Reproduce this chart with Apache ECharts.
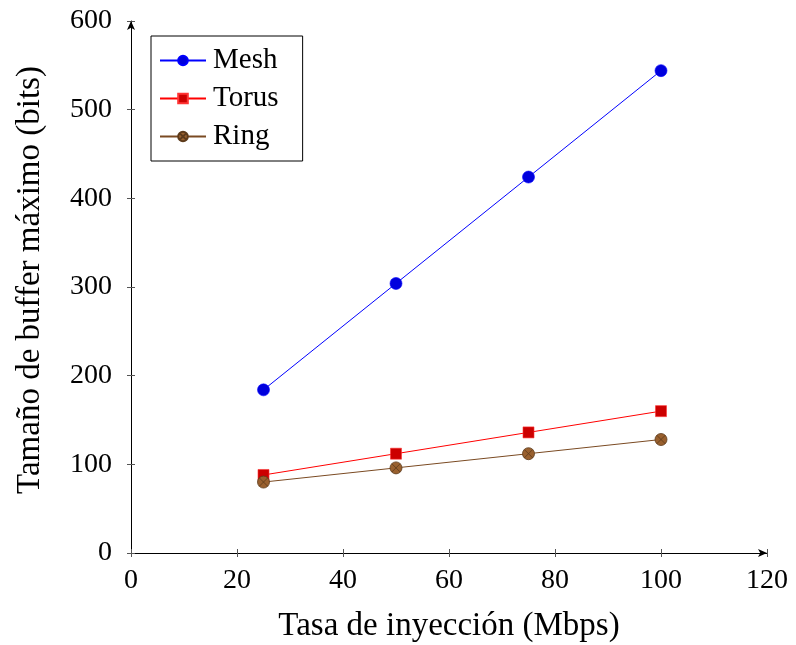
<!DOCTYPE html>
<html>
<head>
<meta charset="utf-8">
<script src="https://cdn.jsdelivr.net/npm/echarts@6/dist/echarts.min.js"></script>
<style>
  html, body { margin: 0; padding: 0; background: #fff; }
  #chart { width: 796px; height: 645px; }
</style>
</head>
<body>
<div id="chart"></div>
<script>
// data
var rates = [25, 50, 75, 100];
var meshBuf = [184, 304, 424, 544];
var torusBuf = [88, 112, 136, 160];
var ringBuf = [80, 96, 112, 128];

var font = 'Liberation Serif';
var otimes = 'path://M0,10 A10,10 0 1,1 20,10 A10,10 0 1,1 0,10 Z M2.93,2.93 L17.07,17.07 M17.07,2.93 L2.93,17.07';

function pairs(ys) {
    return rates.map(function (x, i) { return [x, ys[i]]; });
}

var chart = echarts.init(document.getElementById('chart'));

var option = {
    animation: false,
    textStyle: { fontFamily: font, color: '#000' },
    grid: { left: 131, right: 29, top: 21, bottom: 92, outerBoundsMode: 'none' },
    legend: {
        orient: 'vertical',
        left: 151,
        top: 36,
        padding: [9, 24, 9, 8],
        itemGap: 7,
        itemWidth: 46,
        itemHeight: 12,
        borderColor: '#000',
        borderWidth: 1,
        textStyle: { fontFamily: font, fontSize: 29, lineHeight: 31, color: '#000', padding: [0, 0, 0, 2] },
        data: ['Mesh', 'Torus', 'Ring']
    },
    xAxis: [{
        type: 'value',
        min: 0, max: 120, interval: 20,
        name: 'Tasa de inyección (Mbps)',
        nameLocation: 'middle',
        nameGap: 57,
        nameTextStyle: { fontFamily: font, fontSize: 33, color: '#000' },
        axisLine: { lineStyle: { color: '#000', width: 1 }, symbol: ['none', 'arrow'], symbolSize: [6, 9] },
        axisTick: { show: true, length: 4, lineStyle: { color: '#555' } },
        axisLabel: { fontFamily: font, fontSize: 28, color: '#000', margin: 14 },
        splitLine: { show: false }
    }, {
        type: 'value',
        position: 'bottom',
        min: 0, max: 120, interval: 20,
        axisLine: { show: false },
        axisTick: { show: true, inside: true, length: 4, lineStyle: { color: '#555' } },
        axisLabel: { show: false },
        splitLine: { show: false }
    }],
    yAxis: [{
        type: 'value',
        min: 0, max: 600, interval: 100,
        name: 'Tamaño de buffer máximo (bits)',
        nameLocation: 'middle',
        nameGap: 84,
        nameTextStyle: { fontFamily: font, fontSize: 33, color: '#000', padding: [0, 0, 0, 14] },
        axisLine: { show: true, lineStyle: { color: '#000', width: 1 }, symbol: ['none', 'arrow'], symbolSize: [6, 9] },
        axisTick: { show: true, length: 4, lineStyle: { color: '#555' } },
        axisLabel: { fontFamily: font, fontSize: 28, color: '#000', margin: 19 },
        splitLine: { show: false }
    }, {
        type: 'value',
        position: 'left',
        min: 0, max: 600, interval: 100,
        axisLine: { show: false },
        axisTick: { show: true, inside: true, length: 4, lineStyle: { color: '#555' } },
        axisLabel: { show: false },
        splitLine: { show: false }
    }],
    series: [{
        name: 'Mesh',
        type: 'line',
        data: pairs(meshBuf),
        symbol: 'circle',
        symbolSize: 12,
        lineStyle: { color: '#0000ff', width: 1 },
        itemStyle: { color: '#0000dd', borderColor: '#0000ff', borderWidth: 0.6 }
    }, {
        name: 'Torus',
        type: 'line',
        data: pairs(torusBuf),
        symbol: 'rect',
        symbolSize: 11,
        lineStyle: { color: '#ff0000', width: 1 },
        itemStyle: { color: '#cc0000', borderColor: '#ff3333', borderWidth: 0.6 }
    }, {
        name: 'Ring',
        type: 'line',
        data: pairs(ringBuf),
        symbol: otimes,
        symbolSize: 12,
        lineStyle: { color: '#7a4a22', width: 1 },
        itemStyle: { color: '#99602e', borderColor: '#5c3a1a', borderWidth: 0.8 }
    }]
};

chart.setOption(option);
</script>
</body>
</html>
